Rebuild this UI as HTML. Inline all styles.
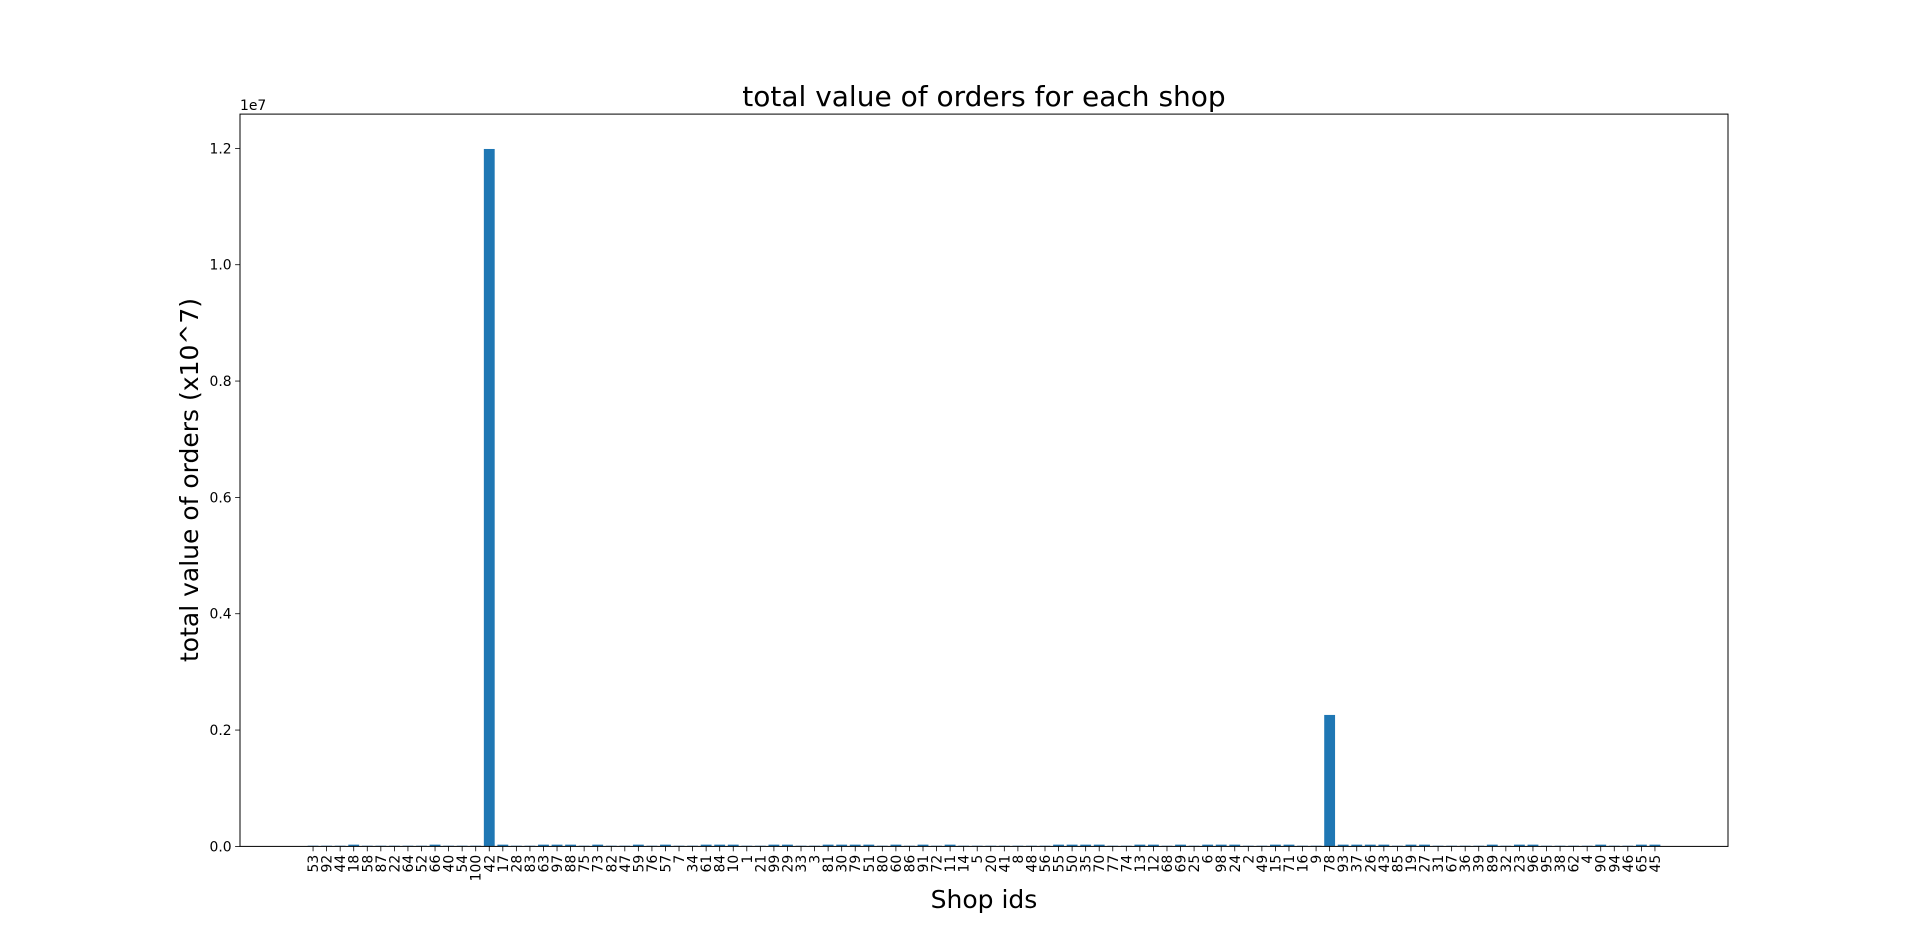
<!DOCTYPE html>
<html><head><meta charset="utf-8">
<style>
html,body{margin:0;padding:0;background:#fff;}
svg{display:block;font-family:"DejaVu Sans","Liberation Sans",sans-serif;}
</style></head>
<body>
<svg id="chart" width="1920" height="951" viewBox="0 0 1920 951">
<rect width="1920" height="951" fill="#fff"/>
<text x="984" y="106" font-size="28" text-anchor="middle">total value of orders for each shop</text>
<text x="984" y="908" font-size="25" text-anchor="middle">Shop ids</text>
<text transform="translate(198,480) rotate(-90)" font-size="25" text-anchor="middle">total value of orders (x10^7)</text>
<text x="240" y="110" font-size="13.9">1e7</text>
<g id="bars"></g>
<g id="xticks"></g>
<g id="yticks"></g>
<rect x="240" y="114.1" width="1488" height="732.3" fill="none" stroke="#000" stroke-width="1"/>
</svg>
<script>
const shopIds = [53,92,44,18,58,87,22,64,52,66,40,54,100,42,17,28,83,63,97,88,75,73,82,47,59,76,57,7,34,61,84,10,1,21,99,29,33,3,81,30,79,51,80,60,86,91,72,11,14,5,20,41,8,48,56,55,50,35,70,77,74,13,12,68,69,25,6,98,24,2,49,15,71,16,9,78,93,37,26,43,85,19,27,31,67,36,39,89,32,23,96,95,38,62,4,90,94,46,65,45];
const orderTotals = [12000,12000,12000,30000,12000,12000,12000,12000,12000,30000,12000,12000,12000,11990000,30000,12000,12000,30000,30000,30000,12000,30000,12000,12000,30000,12000,30000,12000,12000,30000,30000,30000,12000,12000,30000,30000,12000,12000,30000,30000,30000,30000,12000,30000,12000,30000,12000,30000,12000,12000,12000,12000,12000,12000,12000,30000,30000,30000,30000,12000,12000,30000,30000,12000,30000,12000,30000,30000,30000,12000,12000,30000,30000,12000,12000,2260000,30000,30000,30000,30000,12000,30000,30000,12000,12000,12000,12000,30000,12000,30000,30000,12000,12000,12000,12000,30000,12000,12000,30000,30000];
const yTicks = [0,0.2,0.4,0.6,0.8,1.0,1.2];
const yTickLabels = ["0.0","0.2","0.4","0.6","0.8","1.0","1.2"];

const NS="http://www.w3.org/2000/svg";
const L=240,R=1728,T=114.1,B=846.4;
const n=shopIds.length;
const maxV=Math.max(...orderTotals);
const xmin=-0.4-0.05*(n-1+0.8), xmax=(n-1)+0.4+0.05*(n-1+0.8);
const ymax=maxV*1.05;
const xs=v=>L+(v-xmin)/(xmax-xmin)*(R-L);
const ys=v=>B-v/ymax*(B-T);
const bars=document.getElementById('bars'),xt=document.getElementById('xticks'),yt=document.getElementById('yticks');
shopIds.forEach((id,i)=>{
  const r=document.createElementNS(NS,'rect');
  const x0=xs(i-0.4),x1=xs(i+0.4),y=ys(orderTotals[i]);
  r.setAttribute('x',x0);r.setAttribute('width',x1-x0);
  r.setAttribute('y',y);r.setAttribute('height',B-y);
  r.setAttribute('fill','#1f77b4');
  
  
  bars.appendChild(r);
  const cx=xs(i);
  const t=document.createElementNS(NS,'line');
  t.setAttribute('x1',cx);t.setAttribute('x2',cx);t.setAttribute('y1',B);t.setAttribute('y2',B+4.9);
  t.setAttribute('stroke','#000');t.setAttribute('stroke-width','0.8');
  
  
  xt.appendChild(t);
  const tx=document.createElementNS(NS,'text');
  tx.setAttribute('transform','translate('+(cx+5)+','+(B+8.4)+') rotate(-90)');
  tx.setAttribute('font-size','13.9');tx.setAttribute('text-anchor','end');
  tx.textContent=id;
  
  
  xt.appendChild(tx);
});
yTicks.forEach((v,i)=>{
  const y=ys(v*1e7);
  const t=document.createElementNS(NS,'line');
  t.setAttribute('x1',L-4.9);t.setAttribute('x2',L);t.setAttribute('y1',y);t.setAttribute('y2',y);
  t.setAttribute('stroke','#000');t.setAttribute('stroke-width','0.8');
  
  
  yt.appendChild(t);
  const tx=document.createElementNS(NS,'text');
  tx.setAttribute('x',L-8.4);tx.setAttribute('y',y+5);
  tx.setAttribute('font-size','13.9');tx.setAttribute('text-anchor','end');
  tx.textContent=yTickLabels[i];
  
  
  yt.appendChild(tx);
});
</script>
</body></html>
